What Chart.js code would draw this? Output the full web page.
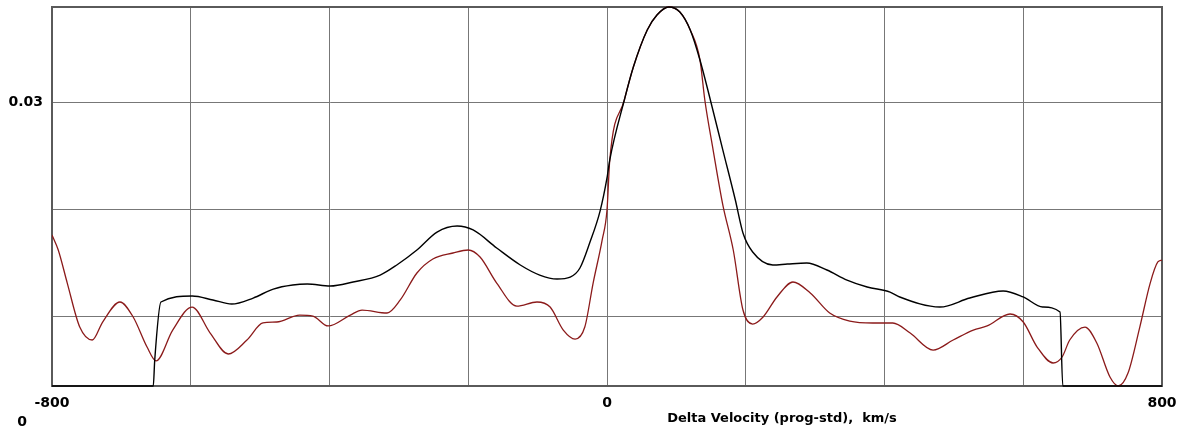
<!DOCTYPE html>
<html>
<head>
<meta charset="utf-8">
<script src="https://cdn.jsdelivr.net/npm/chart.js@4.4.1/dist/chart.umd.min.js"></script>
<style>
  html, body { margin: 0; padding: 0; background: #fff; }
  #wrap { width: 1192px; height: 433px; position: relative; }
</style>
</head>
<body>
<div id="wrap"><canvas id="velChart"></canvas></div>
<script>
// axis ranges
const xMin = -800, xMax = 800;
const yMin = 0.00346, yMax = 0.03888;
const xTickLabels = [-800, 0, 800];
const yTickValues = [0.01, 0.02, 0.03];
const yTickLabels = ['0.03'];

// red curve (full range)
const redX = [-800, -791, -778, -760, -742, -727, -702, -683, -663, -650, -626, -598, -572, -546, -519, -496, -476, -443, -424, -402,
  -370, -353, -317, -298, -274, -251, -222, -200, -183, -159, -130, -101, -82, -63, -46, -32, -20, -7, 0, 4,
  25, 38, 58, 72, 89, 105, 120, 134, 141, 153, 167, 182, 196, 210, 225, 245, 268, 293, 321, 350,
  383, 412, 437, 470, 499, 528, 548, 581, 600, 620, 643, 656, 667, 689, 706, 725, 737, 751, 768, 783, 794, 800];
const redY = [0.01757, 0.01617, 0.01308, 0.00897, 0.00776, 0.00944, 0.01131, 0.00991, 0.0071, 0.0058, 0.00869, 0.01084, 0.00841, 0.00645, 0.00776, 0.00935, 0.00944, 0.01009, 0.0100, 0.00907,
  0.01009, 0.01056, 0.01028, 0.0115, 0.01402, 0.01533, 0.01589, 0.01617, 0.01551, 0.01308, 0.01093, 0.01131, 0.01084, 0.00869, 0.00785, 0.00897, 0.01308, 0.0171, 0.01991, 0.02458,
  0.03019, 0.03327, 0.03673, 0.03813, 0.03888, 0.03841, 0.03673, 0.03393, 0.03019, 0.02551, 0.02037, 0.01617, 0.01056, 0.00925, 0.00991, 0.01178, 0.01318, 0.01215, 0.01028, 0.00953,
  0.00935, 0.00935, 0.00841, 0.00682, 0.00776, 0.00869, 0.00907, 0.01019, 0.00944, 0.0071, 0.00561, 0.00617, 0.00776, 0.00897, 0.00748, 0.0043, 0.00327, 0.00467, 0.00897, 0.01308, 0.01505, 0.01523];

// black curve (zero outside about -655..657)
const blackX = [-800, -654, -652, -643, -598, -568, -541, -510, -481, -453, -432, -399, -366, -327, -303, -274, -245, -216, -193, -159,
  -125, -97, -72, -53, -39, -25, -10, 0, 4, 25, 38, 58, 72, 89, 105, 120, 134, 149, 167, 185,
  196, 210, 239, 260, 288, 317, 346, 375, 408, 422, 480, 523, 571, 600, 628, 653, 657, 800];
const blackY = [0, 0, 0.0058, 0.01131, 0.01187, 0.0115, 0.01112, 0.01168, 0.01252, 0.0129, 0.01299, 0.0128, 0.01318, 0.01383, 0.01477, 0.01617, 0.01785, 0.01841, 0.01804, 0.01636,
  0.01477, 0.01383, 0.01346, 0.01364, 0.01449, 0.01682, 0.0198, 0.0229, 0.0246, 0.03019, 0.03327, 0.03673, 0.03813, 0.03888, 0.03841, 0.03673, 0.03393, 0.03019, 0.02551, 0.02084,
  0.01776, 0.01598, 0.01477, 0.01486, 0.01495, 0.0143, 0.01336, 0.01271, 0.01224, 0.01178, 0.01084, 0.01168, 0.01234, 0.01178, 0.01084, 0.01037, 0, 0];

const FONT = '"DejaVu Sans", sans-serif';

// the old plot program pins values below the frame onto the bottom edge
function toPoints(xs, ys) {
  return xs.map((x, i) => ({ x: x, y: Math.min(Math.max(ys[i], yMin), yMax) }));
}

const extraText = {
  id: 'extraText',
  beforeDatasetsDraw(chart) {
    const ctx = chart.ctx;
    const area = chart.chartArea;
    ctx.save();
    ctx.strokeStyle = '#5a5a5a';
    ctx.lineWidth = 2;
    ctx.strokeRect(area.left, area.top, area.right - area.left, area.bottom - area.top);
    ctx.restore();
  },
  afterDraw(chart) {
    const ctx = chart.ctx;
    ctx.save();
    ctx.fillStyle = '#000';
    ctx.textBaseline = 'middle';
    ctx.textAlign = 'center';
    ctx.font = 'bold 13px ' + FONT;
    ctx.fillText('Delta Velocity (prog-std),  km/s', 782, 419);
    ctx.font = 'bold 14px ' + FONT;
    ctx.fillText('0', 22, 422);
    ctx.restore();
  }
};

const ctx = document.getElementById('velChart').getContext('2d');

new Chart(ctx, {
  type: 'line',
  data: {
    datasets: [
      {
        label: 'black',
        data: toPoints(blackX, blackY),
        borderColor: '#000',
        borderWidth: 1.4,
        pointRadius: 0,
        cubicInterpolationMode: 'monotone',
        clip: { left: 0, top: 2, right: 0, bottom: 3 },
        fill: false
      },
      {
        label: 'red',
        data: toPoints(redX, redY),
        borderColor: '#8b1a1a',
        borderWidth: 1.3,
        pointRadius: 0,
        cubicInterpolationMode: 'monotone',
        clip: { left: 0, top: 2, right: 0, bottom: 3 },
        fill: false
      }
    ]
  },
  options: {
    responsive: true,
    maintainAspectRatio: false,
    animation: false,
    layout: { padding: { top: 7, right: 30, left: 0, bottom: 0 } },
    plugins: {
      legend: { display: false },
      tooltip: { enabled: false }
    },
    scales: {
      x: {
        type: 'linear',
        min: xMin,
        max: xMax,
        afterFit: s => { s.height = 47; s.paddingLeft = 0; s.paddingRight = 0; },
        grid: { color: '#777', lineWidth: 1, drawTicks: false },
        border: { color: '#222', width: 2 },
        ticks: {
          stepSize: 200,
          padding: 9,
          color: '#000',
          font: { family: FONT, size: 14, weight: 'bold' },
          callback: v => xTickLabels.includes(v) ? String(v) : ''
        }
      },
      y: {
        type: 'linear',
        min: yMin,
        max: yMax,
        afterFit: s => { s.width = 52; s.paddingTop = 0; s.paddingBottom = 0; },
        afterBuildTicks: s => { s.ticks = yTickValues.map(v => ({ value: v })); },
        grid: { color: '#777', lineWidth: 1, drawTicks: false },
        border: { color: '#5a5a5a', width: 2 },
        ticks: {
          padding: 9,
          color: '#000',
          font: { family: FONT, size: 14, weight: 'bold' },
          callback: v => yTickLabels.includes(v.toFixed(2)) && v > 0.025 ? v.toFixed(2) : ''
        }
      }
    }
  },
  plugins: [extraText]
});
</script>
</body>
</html>
